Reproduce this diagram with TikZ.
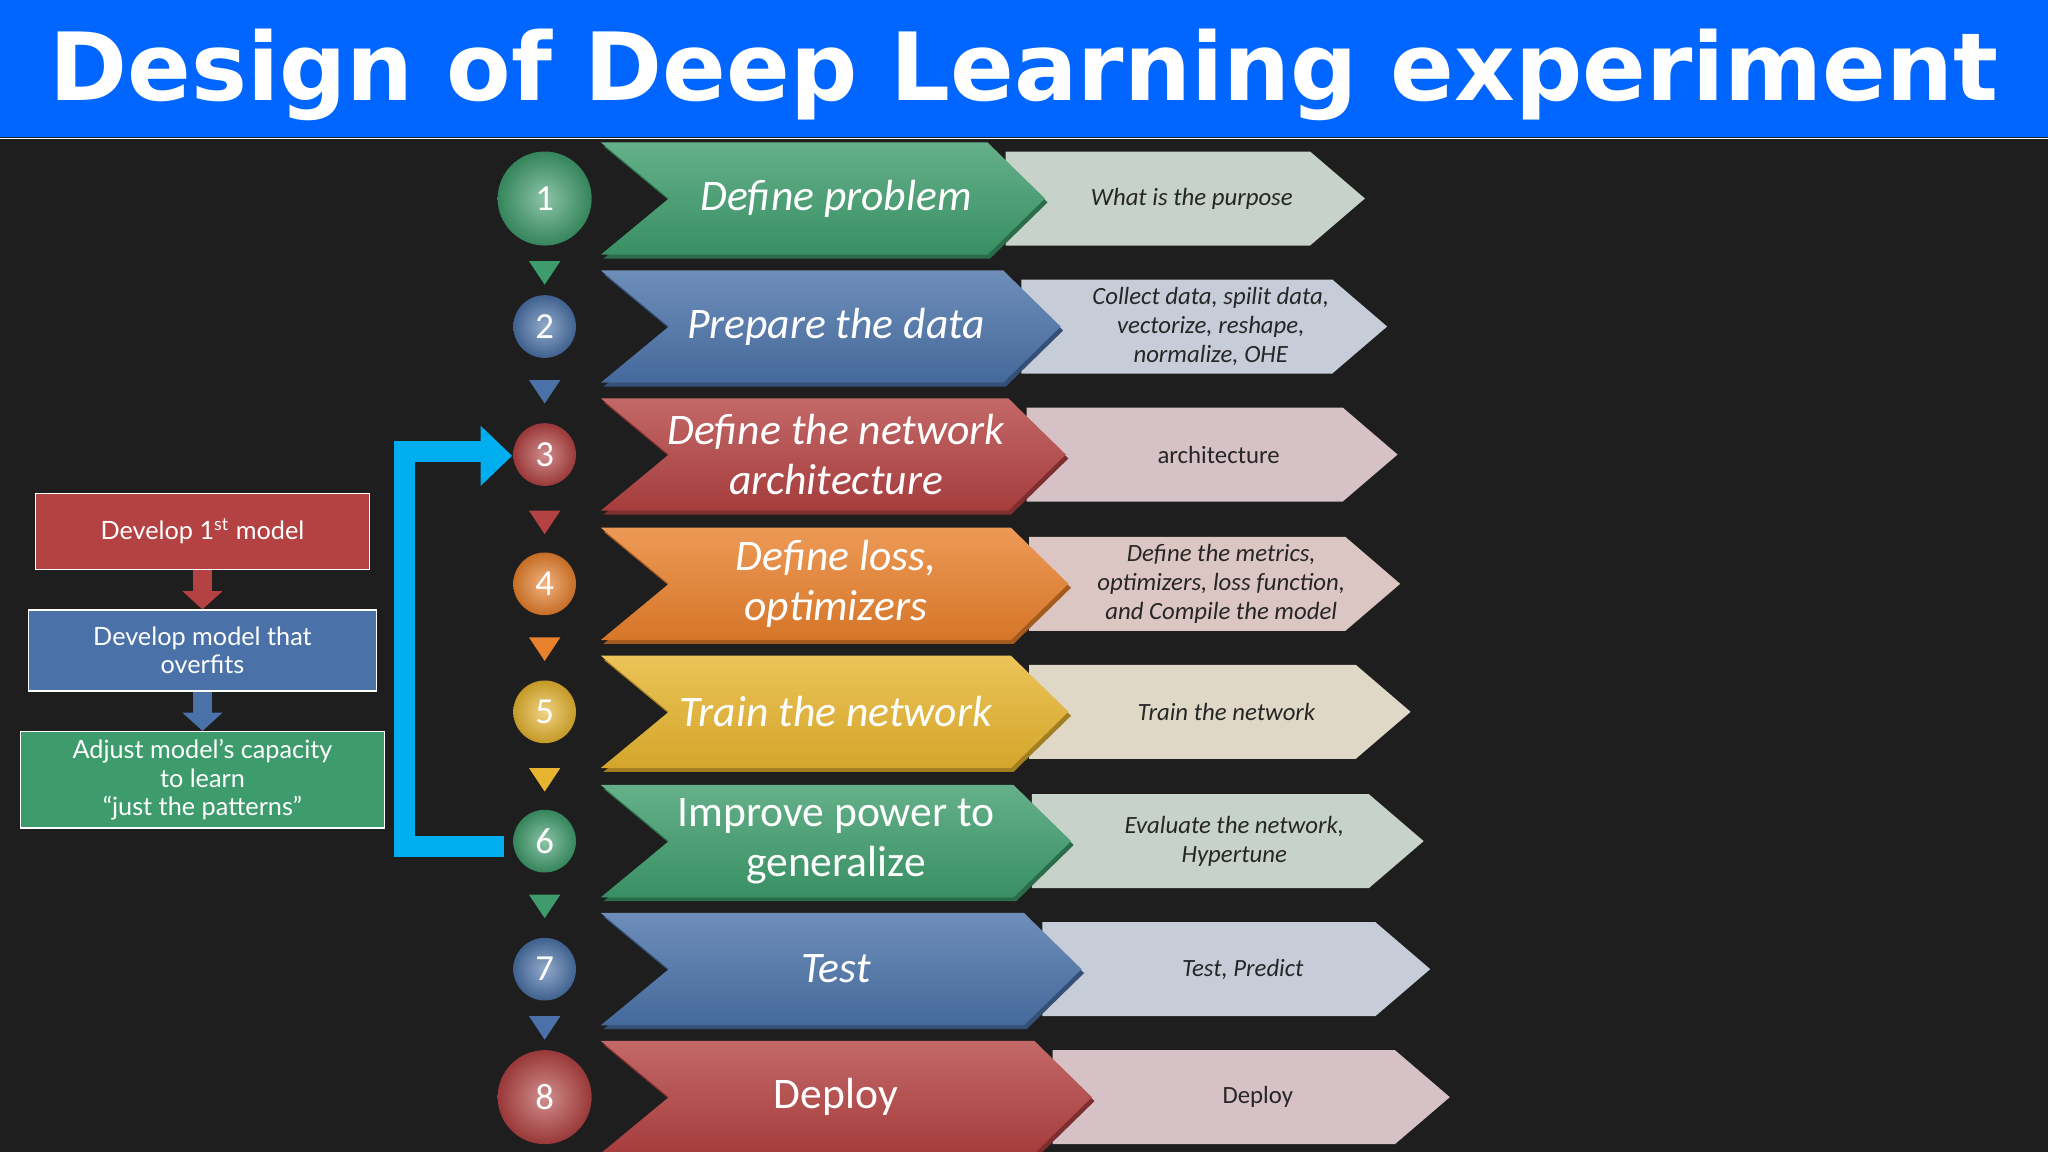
\documentclass[tikz,border=0pt]{standalone}
\usepackage{fontspec}
\setmainfont{Carlito}
\newfontfamily\titlefont{DejaVu Sans}
\newfontfamily\gillfont{Lato}
\usetikzlibrary{arrows.meta}
\definecolor{bg}{HTML}{1E1E1E}
\definecolor{titleblue}{HTML}{0066FF}
\definecolor{cgreen}{HTML}{3E9C6C}
\definecolor{cblue}{HTML}{4A72A8}
\definecolor{cred}{HTML}{B44242}
\definecolor{corange}{HTML}{E8802C}
\definecolor{cyellow}{HTML}{E6B42E}
\definecolor{lgreen}{HTML}{C6D2CA}
\definecolor{lblue}{HTML}{C6CCD8}
\definecolor{lred}{HTML}{D6C2C6}
\definecolor{lorange}{HTML}{DCC6C4}
\definecolor{lyellow}{HTML}{E0D8C6}
\definecolor{cyanline}{HTML}{00AEEF}
\tikzset{
  maintext/.style={text=white,align=center,font=\fontsize{19pt}{22pt}\selectfont},
  lighttext/.style={text=black!85,align=center,font=\fontsize{10.8pt}{12.5pt}\selectfont\itshape},
  leftbox/.style={draw=white!60,line width=0.5pt,text=white!88,align=center,font=\gillfont\fontsize{11pt}{12.5pt}\selectfont},
  numtext/.style={text=white,font=\fontsize{16pt}{18pt}\selectfont},
}
% \steprow{num}{y}{col}{light}{r}{tip}{ltip}{text}{ltext}
\newcommand{\steprow}[9]{%
  \fill[#4] (#6-30,#2-36) -- (#7-42,#2-36) -- (#7,#2) -- (#7-42,#2+36) -- (#6-30,#2+36) -- cycle;
  \fill[#3!70!black] (462,#2-40) -- (#6-42,#2-40) -- (#6+2,#2+3) -- (#6-42,#2+46) -- (462,#2+46) -- (514,#2+3) -- cycle;
  \shade[top color=#3!80!white,bottom color=#3!92!black] (460,#2-43) -- (#6-44,#2-43) -- (#6,#2) -- (#6-44,#2+43) -- (460,#2+43) -- (512,#2) -- cycle;
  \node[maintext] (m#1) at (640,#2) {#8};
  \node[lighttext] (l#1) at ({(#6+#7)/2-10},#2) {#9};
  \shade[inner color=#3!60!white,outer color=#3!85!black] (417,#2) circle (#5);
  \node[numtext] (c#1) at (417,#2) {#1};
}
\newcommand{\tri}[2]{\fill[#2] (405,#1-9) -- (429,#1-9) -- (417,#1+9) -- cycle;}
\begin{document}
\begin{tikzpicture}[x=0.02cm,y=-0.02cm]
\fill[bg] (0,0) rectangle (1568,882);
\useasboundingbox (0,0) rectangle (1568,882);
\fill[titleblue] (0,0) rectangle (1568,105);
\draw[white!60,line width=0.6pt] (0,106) -- (1568,106);
\node[text=white,font=\titlefont\bfseries\fontsize{41pt}{45pt}\selectfont] (title) at (784,57) {Design of Deep Learning experiment};

\steprow{1}{152}{cgreen}{lgreen}{36}{800}{1045}{\itshape Define problem}{What is the purpose}
\steprow{2}{250}{cblue}{lblue}{24}{812}{1062}{\itshape Prepare the data}{Collect data, spilit data,\\vectorize, reshape,\\normalize, OHE}
\steprow{3}{348}{cred}{lred}{24}{816}{1070}{\itshape Define the network\\\itshape architecture}{\upshape architecture}
\steprow{4}{447}{corange}{lorange}{24}{818}{1072}{\itshape Define loss,\\\itshape optimizers}{Define the metrics,\\optimizers, loss function,\\and Compile the model}
\steprow{5}{545}{cyellow}{lyellow}{24}{818}{1080}{\itshape Train the network}{Train the network}
\steprow{6}{644}{cgreen}{lgreen}{24}{820}{1090}{Improve power to\\generalize}{Evaluate the network,\\Hypertune}
\steprow{7}{742}{cblue}{lblue}{24}{828}{1095}{\itshape Test}{Test, Predict}
\steprow{8}{840}{cred}{lred}{36}{836}{1110}{Deploy}{\upshape Deploy}

\tri{209}{cgreen}\tri{300}{cblue}\tri{400}{cred}\tri{497}{corange}
\tri{597}{cyellow}\tri{694}{cgreen}\tri{787}{cblue}

% feedback bracket
\coordinate (b1) at (386,648);
\coordinate (b2) at (310,648);
\coordinate (b3) at (310,346);
\draw[cyanline,line width=16*0.02cm] (b1) -- (b2) -- (b3) -- (372,346);
\fill[cyanline] (368,326) -- (392,349) -- (368,372) -- cycle;

% left panel
\node[leftbox,fill=cred,minimum width=256*0.02cm,minimum height=58*0.02cm] (d1) at (155,407) {Develop 1\textsuperscript{st} model};
\node[leftbox,fill=cblue,minimum width=267*0.02cm,minimum height=62*0.02cm] (d2) at (155,498) {Develop model that\\overfits};
\node[leftbox,fill=cgreen,minimum width=279*0.02cm,minimum height=67*0.02cm] (d3) at (155,597) {Adjust model’s capacity\\to learn\\“just the patterns”};
\draw[-{Triangle[width=30*0.02cm,length=14*0.02cm]},cred,line width=14*0.02cm] (d1.south) -- (d2.north);
\draw[-{Triangle[width=30*0.02cm,length=14*0.02cm]},cblue,line width=14*0.02cm] (d2.south) -- (d3.north);
\end{tikzpicture}
\end{document}
